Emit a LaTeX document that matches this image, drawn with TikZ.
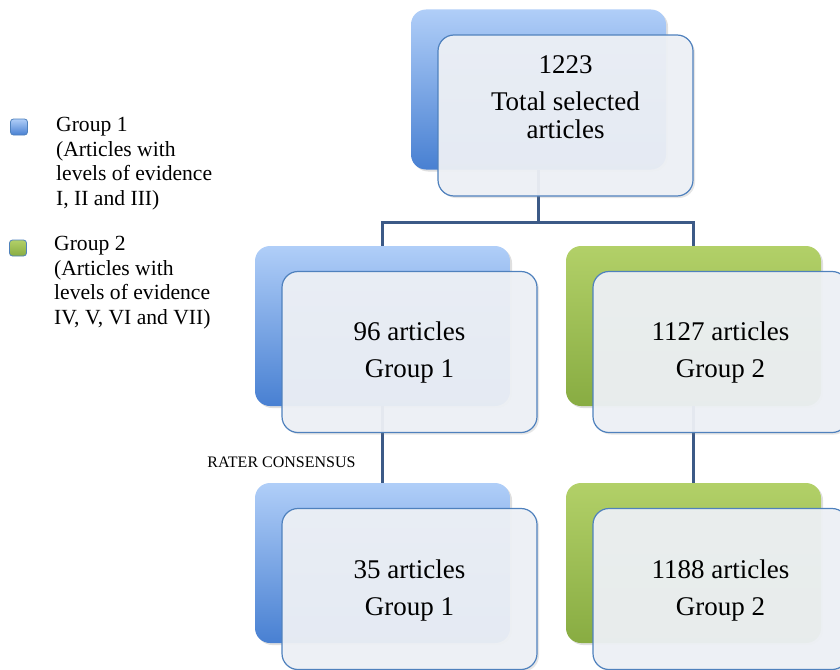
\documentclass[tikz,border=0pt]{standalone}
\usepackage{fontspec}
\setmainfont{Liberation Serif}
\usepackage{tikz}
\usetikzlibrary{shadows,positioning}
\definecolor{bluetop}{RGB}{176,206,248}
\definecolor{bluebot}{RGB}{72,128,210}
\definecolor{greentop}{RGB}{178,208,104}
\definecolor{greenbot}{RGB}{136,172,66}
\definecolor{frontfill}{RGB}{238,241,246}
\definecolor{frontline}{RGB}{79,129,189}
\definecolor{linkcol}{RGB}{60,90,135}
\tikzset{
  backbox/.style={rounded corners=15pt,minimum width=255pt,minimum height=160pt,inner sep=0pt,
    drop shadow={opacity=0.25,shadow xshift=2pt,shadow yshift=-2pt}},
  bluebox/.style={backbox,top color=bluetop,bottom color=bluebot},
  greenbox/.style={backbox,top color=greentop,bottom color=greenbot},
  frontbox/.style={rounded corners=16pt,minimum width=255pt,minimum height=161pt,inner sep=0pt,
    fill=frontfill,fill opacity=0.94,draw=frontline,line width=1.2pt,
    drop shadow={opacity=0.2,shadow xshift=2pt,shadow yshift=-2pt}},
  boxtext/.style={align=center,font=\fontsize{27}{28}\selectfont,inner sep=0pt},
  keytext/.style={align=left,anchor=north west,font=\fontsize{21.6}{24.5}\selectfont,inner sep=0pt},
  keybox/.style={rounded corners=3pt,minimum width=17pt,minimum height=16pt,inner sep=0pt,
    draw=frontline,line width=0.8pt},
  link/.style={draw=linkcol,line width=3pt}
}

\begin{document}
\begin{tikzpicture}[x=1pt,y=-1pt]
    \useasboundingbox (0,0) rectangle (840,669);

    % Legend
    \node[keybox,top color=bluetop,bottom color=bluebot] (key1) at (19,127) {};
    \node[keytext] (keytext1) at (56,117) {Group 1\\(Articles with\\levels of evidence\\I, II and III)};
    \node[keybox,top color=greentop,bottom color=greenbot] (key2) at (18,248) {};
    \node[keytext] (keytext2) at (54,236) {Group 2\\(Articles with\\levels of evidence\\IV, V, VI and VII)};

    % Back boxes
    \node[bluebox] (topback) at (538.5,89.5) {};
    \node[bluebox] (g1back) at (382.5,326) {};
    \node[greenbox] (g2back) at (693.5,326) {};
    \node[bluebox] (c1back) at (382.5,563) {};
    \node[greenbox] (c2back) at (693.5,563) {};

    % Connectors
    \coordinate (split) at (538.5,222);
    \draw[link] (topback.south) -- (split) -| (g1back.north);
    \draw[link] (split) -| (g2back.north);
    \draw[link] (g1back.south) -- (c1back.north);
    \draw[link] (g2back.south) -- (c2back.north);

    % Front boxes
    \node[frontbox] (topfront) at ([xshift=27pt,yshift=-26pt]topback.center) {};
    \node[frontbox] (g1front) at ([xshift=27pt,yshift=-26pt]g1back.center) {};
    \node[frontbox] (g2front) at ([xshift=27pt,yshift=-26pt]g2back.center) {};
    \node[frontbox] (c1front) at ([xshift=27pt,yshift=-26pt]c1back.center) {};
    \node[frontbox] (c2front) at ([xshift=27pt,yshift=-26pt]c2back.center) {};

    % Box texts
    \node[boxtext] (toptext) at ([yshift=18pt]topfront.center) {1223\\[9pt]Total selected\\articles};
    \node[boxtext] (g1text) at ([yshift=-1pt]g1front.center) {96 articles\\[9pt]Group 1};
    \node[boxtext] (g2text) at ([yshift=-1pt]g2front.center) {1127 articles\\[9pt]Group 2};
    \node[boxtext] (c1text) at ([yshift=-1pt]c1front.center) {35 articles\\[9pt]Group 1};
    \node[boxtext] (c2text) at ([yshift=-1pt]c2front.center) {1188 articles\\[9pt]Group 2};

    \node[font=\fontsize{16}{18}\selectfont,inner sep=0pt] (rater) at (281.5,462) {RATER CONSENSUS};
\end{tikzpicture}
\end{document}
